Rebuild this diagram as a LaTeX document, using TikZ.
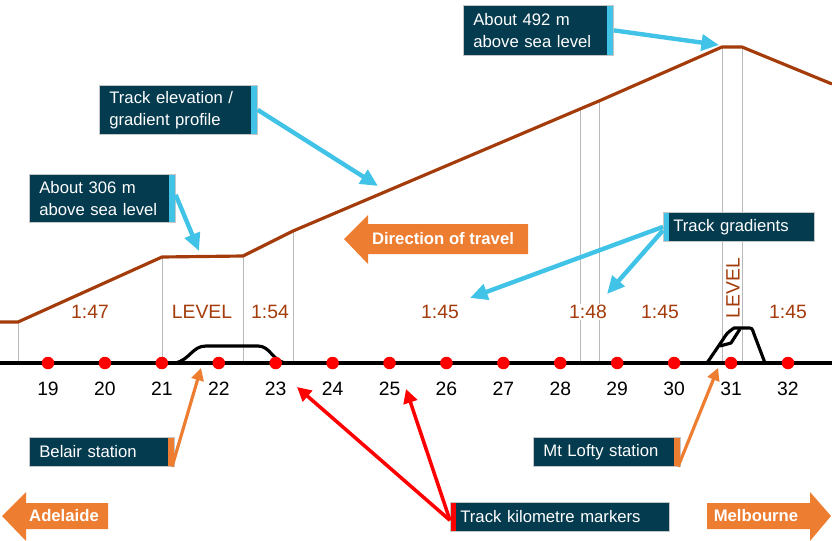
\documentclass[tikz,border=0pt]{standalone}
\usepackage{fontspec}
\setmainfont{Liberation Sans}
\usepackage{xcolor}
\definecolor{boxteal}{HTML}{053B4F}
\definecolor{skyblue}{HTML}{40C3E6}
\definecolor{tangerine}{HTML}{ED7D31}
\definecolor{rust}{HTML}{A33C0A}
\usepackage{tikz}
\usetikzlibrary{arrows.meta, calc}

\begin{document}
\begin{tikzpicture}[x=0.02cm, y=-0.02cm,
  callout/.style={fill=boxteal, draw=gray!45, line width=0.4pt, text=white,
    anchor=north west, align=left, inner xsep=0.2cm, inner ysep=0pt,
    font=\fontsize{9.5}{12.5}\selectfont},
  stripe right/.style={path picture={\fill[#1] ([xshift=-3.4pt]path picture bounding box.north east)
    rectangle (path picture bounding box.south east);}},
  stripe left/.style={path picture={\fill[#1] (path picture bounding box.north west)
    rectangle ([xshift=3.4pt]path picture bounding box.south west);}},
  grade/.style={text=rust, fill=white, inner sep=0.5pt, font=\fontsize{11}{13}\selectfont},
  kmdot/.style={circle, fill=red, inner sep=0pt, minimum size=0.25cm},
  kmlab/.style={font=\fontsize{11}{13}\selectfont},
  drop/.style={draw=gray!55, line width=0.5pt},
  pointer/.style={skyblue, line width=2.5pt, -{Triangle[length=10pt, width=9pt]}},
  stationptr/.style={tangerine, line width=1.8pt, -{Triangle[length=7pt, width=7pt]}},
  markerptr/.style={red, line width=2pt, -{Triangle[length=8pt, width=8pt]}},
  travel/.style={text=white, font=\bfseries\fontsize{9.5}{11}\selectfont},
]
\useasboundingbox (0,0) rectangle (832,541);

% drop lines from the profile to the track
\foreach \px/\py in {18/322, 162/257, 243/256, 293/231, 580/109, 599/101, 722/47, 742/47}
  \draw[drop] (\px,\py) -- (\px,363);

% elevation profile
\draw[rust, line width=1.8pt, line join=round] (0,322) -- (18,322) -- (162,257) -- (243,256)
  -- (293,231) -- (580,109) -- (599,101) -- (722,47) -- (742,47) -- (832,84);

% track
\draw[line width=2.6pt] (0,363) -- (832,363);

% stations
\draw[line width=1.8pt] (175,363) .. controls (190,360) and (192,346) .. (206,346) -- (258,346)
  .. controls (270,346) and (272,360) .. (285,363);
\draw[line width=1.8pt, line join=round] (707,363) -- (722,341) .. controls (727,333) .. (734,328)
  -- (748,328) .. controls (752,328) .. (754,334) -- (765,363);
\draw[line width=1.8pt, line join=round] (720,346) -- (731,343) -- (740,329);

% kilometre markers
\foreach \k [count=\i from 0] in {19,...,32} {
  \node[kmdot] (km\k) at ({48+56.92*\i},363) {};
  \node[kmlab] (lab\k) at ({48+56.92*\i},389) {\k};
}

% gradients
\node[grade] (g47)   at (90,312)  {1:47};
\node[grade] (lvlA)  at (202,312) {LEVEL};
\node[grade] (g54)   at (270,312) {1:54};
\node[grade] (g45a)  at (440,312) {1:45};
\node[grade] (g48)   at (588,312) {1:48};
\node[grade] (g45b)  at (660,312) {1:45};
\node[grade, rotate=90] (lvlB) at (733,288) {LEVEL};
\node[grade] (g45c)  at (788,312) {1:45};

% callouts
\node[callout, stripe right=skyblue, text width=2.6cm, minimum height=1cm] (sea492) at (463,5)
  {About 492 m\\above sea level};
\node[callout, stripe right=skyblue, text width=2.76cm, minimum height=0.98cm] (elev) at (99,85)
  {Track elevation /\\gradient profile};
\node[callout, stripe right=skyblue, text width=2.52cm, minimum height=0.96cm] (sea306) at (29,174)
  {About 306 m\\above sea level};
\node[callout, stripe left=skyblue, text width=2.62cm, minimum height=0.58cm] (grad) at (663,212)
  {Track gradients};
\node[callout, stripe right=tangerine, text width=2.5cm, minimum height=0.58cm] (belair) at (29,437)
  {Belair station};
\node[callout, stripe right=tangerine, text width=2.54cm, minimum height=0.58cm] (lofty) at (533,437)
  {Mt Lofty station};
\node[callout, stripe left=red, text width=3.98cm, minimum height=0.58cm] (kmbox) at (450,502)
  {Track kilometre markers};

% pointer targets
\coordinate (peak)    at (719,45);
\coordinate (slope)   at (378,186);
\coordinate (flat)    at (199,251);
\coordinate (gradA)   at (470,298);
\coordinate (gradB)   at (607,294);
\coordinate (belairpt) at (201,368);
\coordinate (loftypt) at (718,368);
\coordinate (mk23)    at (297,387);
\coordinate (mk25)    at (406,389);

\draw[pointer] (sea492.east) -- (peak);
\draw[pointer] (elev.east) -- (slope);
\draw[pointer] ([yshift=2pt]sea306.east) -- (flat);
\draw[pointer] (grad.west) -- (gradA);
\draw[pointer] ([yshift=-2pt]grad.west) -- (gradB);
\draw[stationptr] ([xshift=-1.5pt]belair.south east) -- (belairpt);
\draw[stationptr] ([xshift=-1.5pt]lofty.south east) -- (loftypt);
\draw[markerptr] ([yshift=-2pt]kmbox.west) -- (mk23);
\draw[markerptr] ([yshift=-2pt]kmbox.west) -- (mk25);

% direction arrows
\fill[tangerine] (344,239) -- (368,215) -- (368,224) -- (528,224) -- (528,254) -- (368,254)
  -- (368,264) -- cycle;
\node[travel] (dir) at (443,239) {Direction of travel};
\fill[tangerine] (2,516) -- (26,492) -- (26,503) -- (108,503) -- (108,529) -- (26,529)
  -- (26,541) -- cycle;
\node[travel] (adl) at (64,516) {Adelaide};
\fill[tangerine] (831,516) -- (810,492) -- (810,503) -- (707,503) -- (707,529) -- (810,529)
  -- (810,541) -- cycle;
\node[travel] (mel) at (756,516) {Melbourne};
\end{tikzpicture}
\end{document}
